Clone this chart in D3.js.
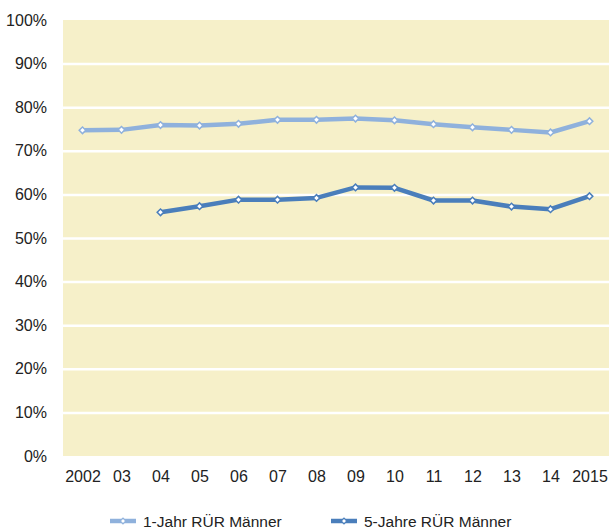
<!DOCTYPE html>
<html><head><meta charset="utf-8">
<script src="https://cdn.jsdelivr.net/npm/d3@7"></script>
<style>body{margin:0;background:#fff}svg{display:block}text{font-family:"Liberation Sans",Arial,sans-serif;fill:#222}</style>
</head><body><svg id="c" width="609" height="530"></svg>
<script>
const years = ["2002","03","04","05","06","07","08","09","10","11","12","13","14","2015"];
const oneYear = [74.7,74.8,75.9,75.8,76.2,77.1,77.1,77.4,77.0,76.1,75.4,74.8,74.2,76.8];
const fiveYear = [null,null,55.9,57.3,58.8,58.8,59.2,61.6,61.5,58.6,58.6,57.2,56.6,59.6];
const yTicks = [0,10,20,30,40,50,60,70,80,90,100];
const seriesNames = ["1-Jahr RÜR Männer","5-Jahre RÜR Männer"];
const colors = ["#8FB1DC","#4A7EBB"];

const svg = d3.select("#c");
const L=63, R=609, T=20, B=456;
const x = d3.scalePoint().domain(years).range([L,R]).padding(0.5);
const y = d3.scaleLinear().domain([0,100]).range([B,T]);

svg.append("rect").attr("x",L).attr("y",T).attr("width",R-L).attr("height",B-T).attr("fill","#F6F0C9");

const yAxis = svg.append("g").attr("transform",`translate(${L},0)`)
  .call(d3.axisLeft(y).tickValues(yTicks).tickFormat(d=>d+"%").tickSize(-(R-L)).tickPadding(16));
yAxis.select(".domain").remove();
yAxis.selectAll(".tick line").attr("stroke","#fff").attr("stroke-width",2.5).filter(d=>d===0||d===100).remove();
yAxis.selectAll(".tick text").attr("font-size",16).attr("fill","#222").attr("font-family","Liberation Sans, Arial, sans-serif");

const xAxis = svg.append("g").attr("transform",`translate(0,${B})`)
  .call(d3.axisBottom(x).tickSize(0).tickPadding(14.5));
xAxis.select(".domain").remove();
xAxis.selectAll(".tick text").attr("font-size",16).attr("fill","#222").attr("font-family","Liberation Sans, Arial, sans-serif");

const series = [oneYear, fiveYear];
const line = d3.line().defined(d=>d.v!=null).x(d=>x(d.k)).y(d=>y(d.v));
const marker = d3.symbol().type(d3.symbolSquare).size(22);
series.forEach((s,i)=>{
  const data = years.map((k,j)=>({k,v:s[j]}));
  svg.append("path").datum(data).attr("d",line).attr("fill","none")
    .attr("stroke",colors[i]).attr("stroke-width",4.5).attr("stroke-linejoin","round");
  svg.append("g").selectAll("path").data(data.filter(d=>d.v!=null)).join("path")
    .attr("d",marker).attr("transform",d=>`translate(${x(d.k)},${y(d.v)}) rotate(45)`)
    .attr("fill","#fff").attr("stroke",colors[i]).attr("stroke-width",1.5);
});

const legX = [110,331];
seriesNames.forEach((n,i)=>{
  const g = svg.append("g").attr("transform",`translate(${legX[i]},521)`);
  g.append("line").attr("x1",0).attr("x2",26).attr("y1",0).attr("y2",0).attr("stroke",colors[i]).attr("stroke-width",4.5);
  g.append("path").attr("d",d3.symbol().type(d3.symbolSquare).size(16)()).attr("transform","translate(13,0) rotate(45)")
    .attr("fill","#fff").attr("stroke",colors[i]).attr("stroke-width",1.2);
  g.append("text").attr("x",33).attr("y",5.5).attr("font-size",15.5).text(n);
});
</script></body></html>
